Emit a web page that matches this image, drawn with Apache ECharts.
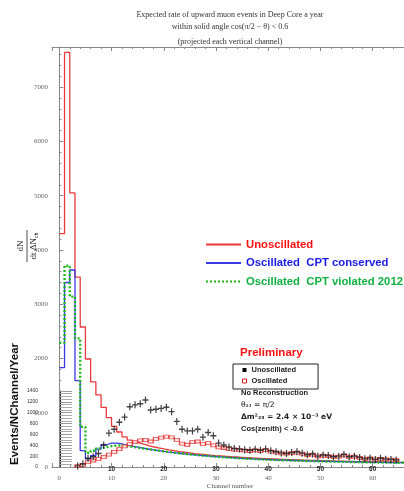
<!DOCTYPE html>
<html><head><meta charset="utf-8">
<script src="https://cdn.jsdelivr.net/npm/echarts@6/dist/echarts.min.js"></script>
<style>html,body{margin:0;padding:0;background:#fff}#c{width:404px;height:491px}</style>
</head><body><div id="c"></div>
<script>
// Main histograms: value per 1-wide channel bin, bins starting at channel 0
const unoscHist = [4300,7640,5050,3500,2580,1990,1570,1330,1100,910,750,645,555,495,455,425,398,373,352,333,316,300,285,272,260,248,238,228,219,211,204,197,190,184,178,172,166,161,156,152,148,144,140,136,132,129,126,123,120,117,114,112,109,107,104,102,100,98,96,94,92,90,88,87,85,84];
const oscCPTHist = [1830,3400,3630,1590,300,150,210,330,410,440,440,425,405,385,365,348,332,317,303,289,276,264,253,243,233,224,215,207,199,192,185,178,172,166,160,155,150,145,141,137,133,129,126,123,120,117,114,111,109,106,104,102,100,98,96,94,92,90,89,87,86,84,83,81,80,79];
const oscCPTVHist = [2290,3710,3140,2370,740,260,300,340,365,385,395,395,385,372,358,344,330,316,302,289,276,264,253,243,233,224,215,206,198,190,183,176,170,164,158,153,148,143,139,135,131,127,124,121,118,115,112,109,107,104,102,100,98,96,94,92,90,88,87,85,84,82,81,79,78,77];
// Overlay data points (per channel)
const dataChannels = [3,4,5,6,7,8,9,10,11,12,13,14,15,16,17,18,19,20,21,22,23,24,25,26,27,28,29,30,31,32,33,34,35,36,37,38,39,40,41,42,43,44,45,46,47,48,49,50,51,52,53,54,55,56,57,58,59,60,61,62,63,64];
const dataUnosc = [20,55,160,190,250,405,625,695,825,920,1110,1145,1165,1235,1050,1065,1080,1100,1020,840,695,665,665,695,550,635,575,440,405,370,340,330,320,310,325,310,330,300,280,260,250,265,280,255,225,240,200,220,210,190,200,230,190,200,175,150,165,140,160,145,140,130];
const dataOsc = [15,40,90,120,150,185,230,280,330,380,420,460,490,500,470,520,540,560,545,500,430,410,460,470,420,440,400,360,350,330,320,310,300,295,305,295,310,285,270,250,245,255,265,245,220,230,195,210,200,185,190,215,185,190,170,150,160,140,150,140,135,125];
const mainYTicks = [0,1000,2000,3000,4000,5000,6000,7000];
const insetYTicks = [0,200,400,600,800,1000,1200,1400];

function histPoints(h){ const p = h.map((v,i)=>[i,v]); p.push([h.length, h[h.length-1]]); return p; }
const chart = echarts.init(document.getElementById('c'), null, {renderer:'canvas'});
const serif = 'Liberation Serif';
const sans = 'Liberation Sans';
const gray = '#888';
chart.setOption({
  animation:false,
  backgroundColor:'#fff',
  grid:[
    {left:52, right:0, top:47, bottom:24, containLabel:false, outerBoundsMode:'none'},
    {left:60, width:10, top:391, bottom:24, containLabel:false, outerBoundsMode:'none'}
  ],
  xAxis:[
    {gridIndex:0, type:'value', min:-1.4, max:66, splitNumber:7, position:'bottom', offset:3,
     axisLine:{lineStyle:{color:gray, width:1}}, axisTick:{inside:true, length:4, lineStyle:{color:gray}},
     minorTick:{show:true, splitNumber:5, length:2, lineStyle:{color:gray}},
     splitLine:{show:false},
     axisLabel:{showMinLabel:false, showMaxLabel:false, fontFamily:serif, fontSize:7, color:'#666', margin:5}},
    {gridIndex:0, type:'value', min:-1.4, max:66, splitNumber:7, position:'bottom', offset:0,
     axisLine:{show:false}, axisTick:{show:false}, splitLine:{show:false},
     axisLabel:{showMinLabel:false, showMaxLabel:false, fontFamily:sans, fontWeight:'bold', fontSize:6.5, color:'#222', margin:-1,
       formatter:v=> (v>0 && v%10===0) ? String(v) : ''}},
    {gridIndex:0, type:'value', min:-1.4, max:66, splitNumber:7, position:'top',
     axisLine:{lineStyle:{color:gray}}, axisTick:{inside:true, length:4, lineStyle:{color:gray}},
     minorTick:{show:true, splitNumber:5, length:2, lineStyle:{color:gray}},
     axisLabel:{show:false}, splitLine:{show:false}},
    {gridIndex:1, type:'value', min:0, max:1, show:false}
  ],
  yAxis:[
    {gridIndex:0, type:'value', min:0, max:7740, interval:1000,
     axisLine:{show:true, lineStyle:{color:gray}}, axisTick:{show:true, inside:true, length:4, lineStyle:{color:gray}},
     minorTick:{show:true, splitNumber:5, length:2, lineStyle:{color:gray}},
     splitLine:{show:false},
     axisLabel:{showMaxLabel:false, fontFamily:serif, fontSize:7, color:'#666', margin:4,
       formatter:v=> mainYTicks.includes(v) ? String(v) : ''}},
    {gridIndex:1, type:'value', min:0, max:1400, interval:200,
     axisLine:{show:true, lineStyle:{color:'#222', width:1}}, axisTick:{show:true, inside:true, length:12, lineStyle:{color:'#999'}},
     minorTick:{show:true, splitNumber:4, length:12, lineStyle:{color:'#aaa'}},
     splitLine:{show:false},
     axisLabel:{fontFamily:sans, fontSize:5, color:'#333', margin:22,
       formatter:v=> insetYTicks.includes(v) ? String(v) : ''}}
  ],
  legend:[
    {orient:'vertical', left:202, top:239, itemWidth:35, itemHeight:11, itemGap:7.5, padding:[0,0,0,3],
     itemStyle:{opacity:0},
     textStyle:{fontFamily:sans, fontWeight:'bold', fontSize:11.3},
     data:[
       {name:'Unoscillated', textStyle:{color:'#ff1010'}},
       {name:'Oscillated  CPT conserved', textStyle:{color:'#1a1ae6'}},
       {name:'Oscillated  CPT violated 2012', textStyle:{color:'#10b040'}}
     ]},
    {orient:'vertical', left:233, top:364, itemWidth:4, itemHeight:4, itemGap:2, padding:[1.5,22,3.5,9],
     borderColor:'#222', borderWidth:1, backgroundColor:'#fff',
     textStyle:{fontFamily:sans, fontWeight:'bold', fontSize:7.5, lineHeight:9, color:'#222'},
     formatter:n=>n.replace(' (data)',''),
     data:[
       {name:'Unoscillated (data)', icon:'rect', itemStyle:{color:'#000', borderWidth:0, opacity:1}},
       {name:'Oscillated (data)', icon:'rect', itemStyle:{color:'#fff', borderColor:'#e02020', borderWidth:1, opacity:1}}
     ]}
  ],
  series:[
    {name:'Unoscillated', type:'line', xAxisIndex:0, yAxisIndex:0, step:'end', showSymbol:false, symbol:'none',
     data:histPoints(unoscHist), lineStyle:{color:'#e8393c', width:1.3}, itemStyle:{color:'#e8393c'}, z:3},
    {name:'Oscillated  CPT conserved', type:'line', xAxisIndex:0, yAxisIndex:0, step:'end', showSymbol:false, symbol:'none',
     data:histPoints(oscCPTHist), lineStyle:{color:'#3838e8', width:1.3}, itemStyle:{color:'#3838e8'}, z:3},
    {name:'Oscillated  CPT violated 2012', type:'line', xAxisIndex:0, yAxisIndex:0, step:'end', showSymbol:false, symbol:'none',
     data:histPoints(oscCPTVHist), lineStyle:{color:'#1cb81c', width:2.4, type:[2,2]}, itemStyle:{color:'#1cb81c'}, z:4},
    {name:'Oscillated (data)', type:'scatter', xAxisIndex:0, yAxisIndex:0,
     data:dataChannels.map((c,i)=>[c+0.5, dataOsc[i]]), symbol:'rect', symbolSize:[5,3],
     itemStyle:{color:'#fde8e8', borderColor:'#e02020', borderWidth:1}, z:5},
    {name:'Unoscillated (data)', type:'scatter', xAxisIndex:0, yAxisIndex:0,
     data:dataChannels.map((c,i)=>[c+0.5, dataUnosc[i]]),
     symbol:'path://M4,0h2v4h4v2h-4v4h-2v-4h-4v-2h4z', symbolSize:[6,7],
     itemStyle:{color:'#111'}, z:6}
  ],
  graphic:[
    {type:'text', x:230, y:15, style:{text:'Expected rate of upward muon events in Deep Core a year', font:'8px "Liberation Serif"', fill:'#333', textAlign:'center', textVerticalAlign:'middle'}},
    {type:'text', x:230, y:27, style:{text:'within solid angle cos(π/2 − θ) < 0.6', font:'8px "Liberation Serif"', fill:'#333', textAlign:'center', textVerticalAlign:'middle'}},
    {type:'text', x:230, y:42, style:{text:'(projected each vertical channel)', font:'8px "Liberation Serif"', fill:'#333', textAlign:'center', textVerticalAlign:'middle'}},
    {type:'text', x:230, y:486, style:{text:'Channel number', font:'7px "Liberation Serif"', fill:'#555', textAlign:'center', textVerticalAlign:'middle'}},
    {type:'group', x:27, y:246, rotation:Math.PI/2, children:[
      {type:'text', x:0, y:-1.5, style:{text:'dN', font:'9px "Liberation Serif"', fill:'#222', textAlign:'center', textVerticalAlign:'bottom'}},
      {type:'line', shape:{x1:-16, y1:0, x2:16, y2:0}, style:{stroke:'#222', lineWidth:0.8}},
      {type:'text', x:0, y:1.5, style:{text:'{a|dt ΔN}{s|ch}', rich:{a:{font:'9px "Liberation Serif"', fill:'#222'}, s:{font:'6px "Liberation Serif"', fill:'#222', padding:[5,0,0,0]}}, textAlign:'center', textVerticalAlign:'top'}}
    ]},
    {type:'text', x:15, y:404, rotation:Math.PI/2, style:{text:'Events/NChannel/Year', font:'bold 11.5px "Liberation Sans"', fill:'#111', textAlign:'center', textVerticalAlign:'middle'}},
    {type:'text', x:240, y:353, style:{text:'Preliminary', font:'bold 11.5px "Liberation Sans"', fill:'#ff1010', textVerticalAlign:'middle'}},
    {type:'text', x:241, y:393, style:{text:'No Reconstruction', font:'bold 7.5px "Liberation Sans"', fill:'#222', textVerticalAlign:'middle'}},
    {type:'text', x:241, y:405, style:{text:'θ₂₃ = π/2', font:'7.5px "DejaVu Sans"', fill:'#222', textVerticalAlign:'middle'}},
    {type:'text', x:241, y:417, style:{text:'Δm²₂₃ = 2.4 × 10⁻³ eV', font:'bold 7.5px "DejaVu Sans"', fill:'#222', textVerticalAlign:'middle'}},
    {type:'text', x:241, y:429, style:{text:'Cos(zenith) < -0.6', font:'bold 7.5px "Liberation Sans"', fill:'#222', textVerticalAlign:'middle'}}
  ]
});
</script></body></html>
